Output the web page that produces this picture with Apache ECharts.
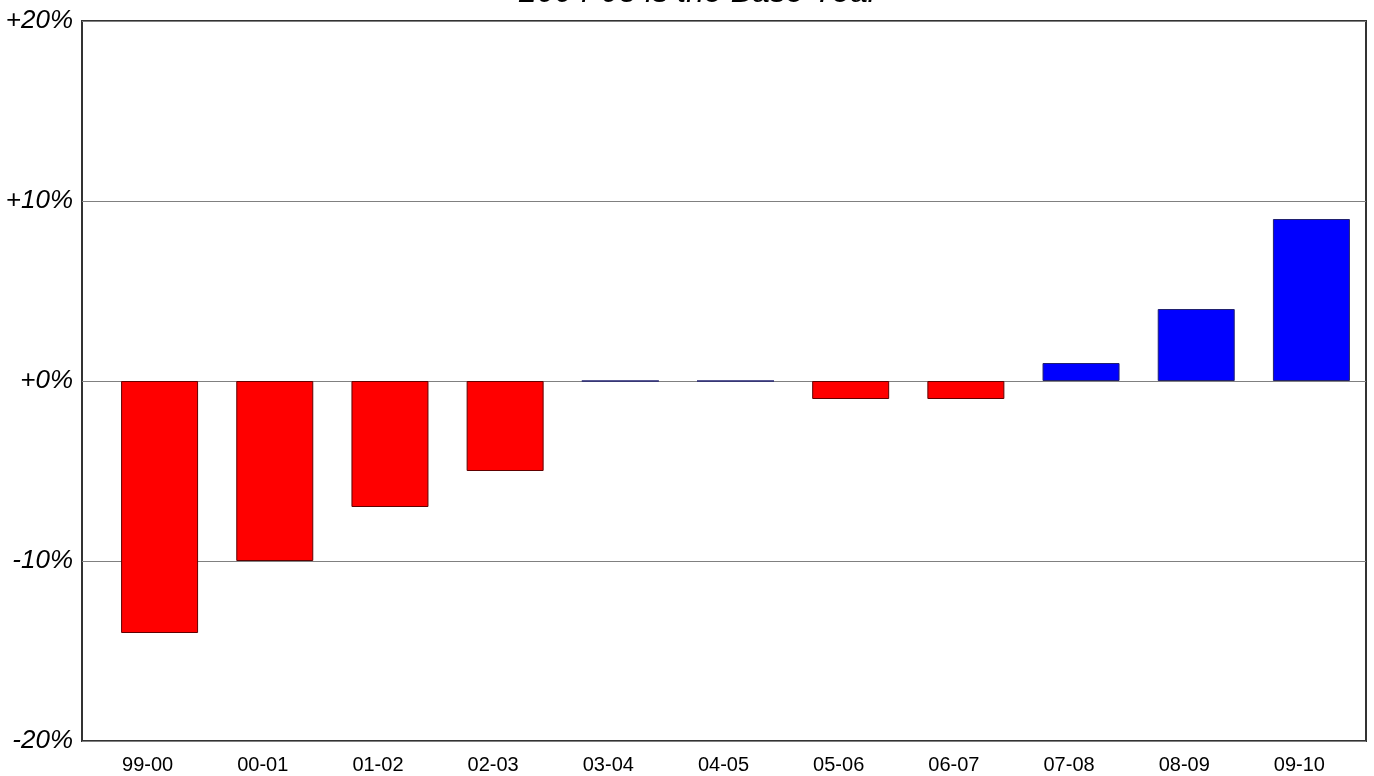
<!DOCTYPE html>
<html>
<head>
<meta charset="utf-8">
<script src="https://cdn.jsdelivr.net/npm/echarts@6/dist/echarts.min.js"></script>
<style>
  html, body { margin: 0; padding: 0; background: #fff; }
  #chart { width: 1374px; height: 776px; }
</style>
</head>
<body>
<div id="chart"></div>
<script>
const categories = ["99-00", "00-01", "01-02", "02-03", "03-04", "04-05", "05-06", "06-07", "07-08", "08-09", "09-10"];
const changes = [-14, -10, -7, -5, 0, 0, -1, -1, 1, 4, 9];
const yTicks = [-20, -10, 0, 10, 20];

const chart = echarts.init(document.getElementById("chart"));

// zero or positive years are blue, declines are red
const barData = changes.map((v) => ({
  value: v,
  itemStyle: v < 0
    ? { color: "#ff0000", borderColor: "#600000", borderWidth: 1 }
    : { color: "#0000ff", borderColor: "#202070", borderWidth: 1 },
}));

const font = "Liberation Sans, Arial, sans-serif";

chart.setOption({
  animation: false,
  title: {
    text: "2004-05 is the Base Year",
    left: 514,
    top: -28,
    textStyle: {
      fontFamily: font,
      fontStyle: "italic",
      fontWeight: "normal",
      fontSize: 32,
      color: "#000",
    },
  },
  // grid 0: frame + y axis, grid 1: the category slots (shifted like the original)
  grid: [
    { left: 82, right: 8, top: 21, bottom: 35, show: true, borderColor: "#333", borderWidth: 2, z: 0 },
    { left: 102, right: 5, top: 21, bottom: 35 },
  ],
  xAxis: [
    { type: "category", gridIndex: 0, data: categories, show: false },
    {
      type: "category",
      gridIndex: 1,
      data: categories,
      axisLine: { show: false },
      axisTick: { show: false },
      axisLabel: {
        color: "#000",
        fontFamily: font,
        fontSize: 20,
        margin: 14,
        padding: [0, 24, 0, 0],
      },
    },
  ],
  yAxis: [
    {
      type: "value",
      gridIndex: 0,
      min: yTicks[0],
      max: yTicks[yTicks.length - 1],
      interval: 10,
      axisLine: { show: false },
      axisTick: { show: false },
      splitLine: { lineStyle: { color: "#808080", width: 1 } },
      axisLabel: {
        color: "#000",
        fontFamily: font,
        fontStyle: "italic",
        fontSize: 26,
        margin: 9,
        padding: [0, 0, 6, 0],
        formatter: (v) => (v < 0 ? "" : "+") + v + "%",
      },
    },
    {
      type: "value",
      gridIndex: 1,
      min: yTicks[0],
      max: yTicks[yTicks.length - 1],
      interval: 10,
      show: false,
    },
  ],
  series: [
    {
      type: "bar",
      xAxisIndex: 1,
      yAxisIndex: 1,
      data: barData,
      barWidth: 77,
    },
  ],
});
</script>
</body>
</html>
